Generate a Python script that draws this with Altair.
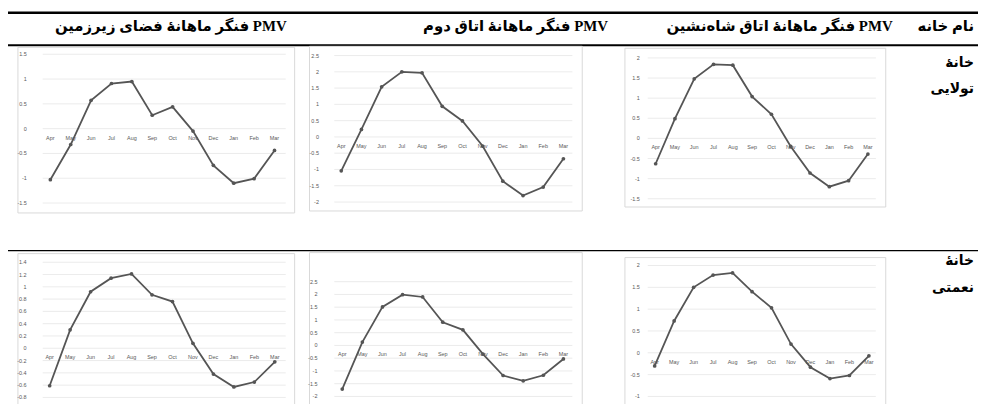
import altair as alt
import pandas as pd

months = ["Apr", "May", "Jun", "Jul", "Aug", "Sep", "Oct", "Nov", "Dec", "Jan", "Feb", "Mar"]

# PMV values
tolaei_basement = [-1.03, -0.32, 0.57, 0.91, 0.95, 0.27, 0.44, -0.05, -0.74, -1.10, -1.01, -0.44]
tolaei_second = [-1.04, 0.23, 1.54, 2.00, 1.97, 0.94, 0.49, -0.28, -1.36, -1.80, -1.54, -0.67]
tolaei_living = [-0.63, 0.49, 1.48, 1.84, 1.82, 1.04, 0.60, -0.20, -0.86, -1.20, -1.05, -0.39]
naemati_basement = [-0.61, 0.30, 0.92, 1.14, 1.21, 0.87, 0.76, 0.08, -0.42, -0.63, -0.55, -0.22]
naemati_second = [-1.71, 0.13, 1.51, 1.99, 1.90, 0.91, 0.61, -0.34, -1.18, -1.39, -1.17, -0.53]
naemati_living = [-0.30, 0.73, 1.50, 1.78, 1.83, 1.40, 1.03, 0.20, -0.33, -0.59, -0.52, -0.07]

ticks_15 = [-1.5, -1, -0.5, 0, 0.5, 1, 1.5]
labels_15 = ["-1.5", "-1", "-0.5", "0", "0.5", "1", "1.5"]
ticks_25 = [-2, -1.5, -1, -0.5, 0, 0.5, 1, 1.5, 2, 2.5]
labels_25 = ["-2", "-1.5", "-1", "-0.5", "0", "0.5", "1", "1.5", "2", "2.5"]
ticks_20 = [-1.5, -1, -0.5, 0, 0.5, 1, 1.5, 2]
labels_20 = ["-1.5", "-1", "-0.5", "0", "0.5", "1", "1.5", "2"]
ticks_14 = [-0.8, -0.6, -0.4, -0.2, 0, 0.2, 0.4, 0.6, 0.8, 1, 1.2, 1.4]
labels_14 = ["-0.8", "-0.6", "-0.4", "-0.2", "0", "0.2", "0.4", "0.6", "0.8", "1", "1.2", "1.4"]
ticks_n20 = [-1, -0.5, 0, 0.5, 1, 1.5, 2]
labels_n20 = ["-1", "-0.5", "0", "0.5", "1", "1.5", "2"]

header_basement = "PMV فنگر ماهانهٔ فضای زیرزمین"
header_second = "PMV فنگر ماهانهٔ اتاق دوم"
header_living = "PMV فنگر ماهانهٔ اتاق شاه‌نشین"
header_name = "نام خانه"
row1_label = ["خانهٔ", "تولایی"]
row2_label = ["خانهٔ", "نعمتی"]

RLE, PDF = "\u202b", "\u202c"
HEAD_FONT = "'Liberation Serif', 'DejaVu Sans'"
TXT = "#595959"
LINE = "#555555"

one = pd.DataFrame({"k": [0]})


def rule(y, x0, x1, w):
    return alt.Chart(one).mark_rule(color="black", strokeWidth=w).encode(
        x=alt.value(x0), x2=alt.value(x1), y=alt.value(y))


def label(txt, x, y, size):
    return alt.Chart(one).mark_text(
        text=RLE + txt + PDF, align="right", baseline="middle", fontSize=size,
        fontWeight="bold", font=HEAD_FONT, color="black").encode(
        x=alt.value(x), y=alt.value(y))


def panel(values, ticks, labels, domain, box, xr, yr, gx, lx):
    df = pd.DataFrame({"month": months, "pmv": values, "i": list(range(len(months)))})
    tdf = pd.DataFrame({"v": ticks, "label": labels})
    zdf = pd.DataFrame({"month": months, "zero": [0] * len(months)})

    def xenc():
        return alt.X("month:N", scale=alt.Scale(type="point", domain=months, range=list(xr), padding=0), axis=None)

    def yenc(field):
        return alt.Y(field, scale=alt.Scale(domain=list(domain), range=list(yr), nice=False, zero=False), axis=None)

    b = alt.Chart(one).mark_rect(fill="white", stroke="#d9d9d9", strokeWidth=1).encode(
        x=alt.value(box[0]), x2=alt.value(box[1]), y=alt.value(box[2]), y2=alt.value(box[3]))
    grid = alt.Chart(tdf).mark_rule(color="#e6e6e6", strokeWidth=0.8).encode(
        y=yenc("v:Q"), x=alt.value(gx[0]), x2=alt.value(gx[1]))
    ylab = alt.Chart(tdf).mark_text(
        align="right", baseline="middle", fontSize=5.5, color=TXT, font="Liberation Sans").encode(
        y=yenc("v:Q"), x=alt.value(lx), text="label:N")
    mlab = alt.Chart(zdf).mark_text(
        baseline="middle", dy=9, fontSize=5.5, color=TXT, font="Liberation Sans").encode(
        x=xenc(), y=yenc("zero:Q"), text="month:N")
    line = alt.Chart(df).mark_line(color=LINE, strokeWidth=1.8).encode(
        x=xenc(), y=yenc("pmv:Q"), order="i:Q")
    pts = alt.Chart(df).mark_circle(color=LINE, size=14, opacity=1).encode(
        x=xenc(), y=yenc("pmv:Q"))
    return [b, grid, ylab, mlab, line, pts]


decor = [
    rule(3.2, 0, 978, 2.5),
    rule(36, 0, 978, 2),
    rule(243, 0, 978, 1.2),
    label(header_basement, 281, 17, 15),
    label(header_second, 605, 17, 15),
    label(header_living, 892, 17, 15),
    label(header_name, 974, 17, 15),
    label(row1_label[0], 974, 54, 14),
    label(row1_label[1], 974, 80, 14),
    label(row2_label[0], 974, 253, 14),
    label(row2_label[1], 974, 281, 14),
]

panels = []
panels += panel(tolaei_basement, ticks_15, labels_15, (-1.5, 1.5), (10, 289, 38, 205),
                (42.7, 268.7), (195, 45), (35, 280), 19)
panels += panel(tolaei_second, ticks_25, labels_25, (-2, 2.5), (304, 579, 37, 203),
                (336, 560), (194, 46.3), (329, 569), 313.5)
panels += panel(tolaei_living, ticks_20, labels_20, (-1.5, 2), (622, 885, 39, 199),
                (653, 867), (190.7, 48.7), (645, 875), 637)
panels += panel(naemati_basement, ticks_14, labels_14, (-0.8, 1.4), (10, 289, 246, 420),
                (42, 269), (391, 254.7), (35, 280), 18.7)
panels += panel(naemati_second, ticks_25, labels_25, (-2, 2.5), (304, 579, 245, 420),
                (337, 560), (390, 274.3), (329, 569), 312)
panels += panel(naemati_living, ticks_n20, labels_n20, (-1, 2), (622, 885, 250, 420),
                (652, 868), (390, 258), (645, 875), 637)

chart = alt.layer(*decor, *panels).resolve_scale(
    x="independent", y="independent"
).properties(
    width=978, height=396, padding=0,
    autosize=alt.AutoSizeParams(type="none"),
    background="white",
).configure_view(stroke=None)

chart.save("out.html", embed_options={"renderer": "svg", "actions": False})
